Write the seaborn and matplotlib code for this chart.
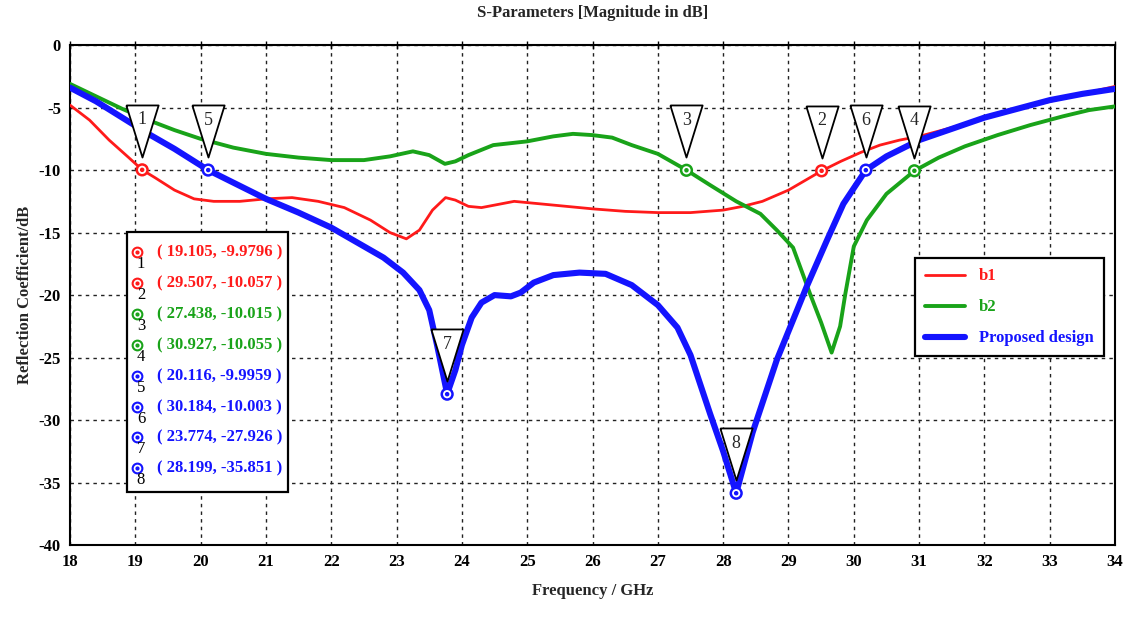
import matplotlib
matplotlib.use("Agg")
import matplotlib.pyplot as plt
import pandas as pd
import seaborn as sns
from matplotlib.patches import Rectangle
from matplotlib.transforms import offset_copy

# b1 curve
b1_freq = [18.0, 18.3, 18.6, 18.9, 19.105, 19.3, 19.6, 19.9, 20.2, 20.6, 21.0, 21.4, 21.8,
           22.2, 22.6, 22.9, 23.15, 23.35, 23.55, 23.75, 23.9, 24.1, 24.3, 24.5, 24.8,
           25.2, 25.6, 26.0, 26.5, 27.0, 27.5, 28.0, 28.3, 28.6, 29.0, 29.507, 29.8,
           30.1, 30.4, 30.7, 31.0, 31.5, 32.0, 32.5, 33.0, 33.5, 34.0]
b1_db = [-4.8, -6.0, -7.6, -9.0, -9.98, -10.6, -11.6, -12.3, -12.5, -12.5, -12.3, -12.2, -12.5,
         -13.0, -14.0, -15.0, -15.5, -14.8, -13.2, -12.2, -12.4, -12.9, -13.0, -12.8, -12.5,
         -12.7, -12.9, -13.1, -13.3, -13.4, -13.4, -13.2, -12.9, -12.5, -11.6, -10.06, -9.3,
         -8.6, -8.0, -7.6, -7.3, -6.6, -5.8, -5.1, -4.5, -3.9, -3.3]

# b2 curve
b2_freq = [18.0, 18.4, 18.8, 19.2, 19.6, 20.0, 20.5, 21.0, 21.5, 22.0, 22.5, 22.9, 23.25,
           23.5, 23.74, 23.9, 24.1, 24.48, 25.0, 25.4, 25.7, 26.0, 26.3, 26.6, 27.0,
           27.438, 27.8, 28.2, 28.57, 28.82, 29.07, 29.33, 29.5, 29.66, 29.79, 29.87,
           30.0, 30.2, 30.5, 30.927, 31.3, 31.7, 32.2, 32.7, 33.2, 33.6, 34.0]
b2_db = [-3.1, -4.1, -5.1, -6.0, -6.8, -7.5, -8.2, -8.7, -9.0, -9.2, -9.2, -8.9, -8.5,
         -8.8, -9.5, -9.3, -8.8, -8.0, -7.7, -7.3, -7.1, -7.2, -7.4, -8.0, -8.7,
         -10.0, -11.2, -12.5, -13.5, -14.8, -16.2, -19.9, -22.2, -24.6, -22.5, -19.9,
         -16.1, -14.0, -11.9, -10.06, -9.0, -8.1, -7.2, -6.4, -5.7, -5.2, -4.9]

# proposed design curve
pd_freq = [18.0, 18.4, 18.8, 19.2, 19.6, 20.116, 20.5, 21.0, 21.5, 22.0, 22.4, 22.8, 23.1,
           23.35, 23.5, 23.62, 23.774, 23.9, 24.0, 24.15, 24.3, 24.5, 24.75, 24.9, 25.1,
           25.4, 25.8, 26.2, 26.6, 27.0, 27.3, 27.5, 27.8, 28.0, 28.199, 28.45, 28.82,
           29.28, 29.59, 29.84, 30.184, 30.5, 31.0, 31.5, 32.0, 32.5, 33.0, 33.5, 34.0]
pd_db = [-3.4, -4.5, -5.8, -7.1, -8.3, -10.0, -11.0, -12.3, -13.4, -14.6, -15.8, -17.0, -18.2,
         -19.6, -21.2, -24.0, -27.9, -26.0, -24.0, -21.8, -20.6, -20.0, -20.1, -19.8, -19.0,
         -18.4, -18.2, -18.3, -19.2, -20.8, -22.6, -24.8, -29.5, -32.5, -35.85, -31.0, -25.2,
         -19.3, -15.6, -12.7, -10.0, -8.9, -7.6, -6.7, -5.8, -5.1, -4.4, -3.9, -3.5]

# markers
marker_ids = ["1", "2", "3", "4", "5", "6", "7", "8"]
marker_freq = [19.105, 29.507, 27.438, 30.927, 20.116, 30.184, 23.774, 28.199]
marker_db = [-9.9796, -10.057, -10.015, -10.055, -9.9959, -10.003, -27.926, -35.851]
marker_curve = ["b1", "b1", "b2", "b2", "Proposed design", "Proposed design",
                "Proposed design", "Proposed design"]

colors = {"b1": "#ff1a1a", "b2": "#19a319", "Proposed design": "#1414ff"}
widths = {"b1": 2.0, "b2": 2.8, "Proposed design": 4.4}

curves = {
    "b1": pd.DataFrame({"freq": b1_freq, "db": b1_db}),
    "b2": pd.DataFrame({"freq": b2_freq, "db": b2_db}),
    "Proposed design": pd.DataFrame({"freq": pd_freq, "db": pd_db}),
}

sns.set_style("white")
plt.rcParams["font.family"] = ["Liberation Serif", "DejaVu Serif"]
plt.rcParams["font.weight"] = "bold"
plt.rcParams["axes.unicode_minus"] = False

fig = plt.figure(figsize=(11.25, 6.18), dpi=100)
ax = fig.add_axes([0.0622, 0.118, 0.929, 0.809])

for name, data in curves.items():
    sns.lineplot(data=data, x="freq", y="db", ax=ax, color=colors[name],
                 linewidth=widths[name], label=name, sort=False, zorder=3)

ax.set_xlim(18, 34)
ax.set_ylim(-40, 0)
ax.set_xticks(range(18, 35))
ax.set_yticks(range(-40, 1, 5))
ax.grid(True, color="#222222", linestyle=(0, (2.5, 3)), linewidth=1.0)
for s in ax.spines.values():
    s.set_color("black")
    s.set_linewidth(1.5)
ax.tick_params(direction="inout", length=6, width=1, top=True, labelsize=12,
               colors="black")
for lab in ax.get_xticklabels() + ax.get_yticklabels():
    lab.set_fontweight("bold")

ax.set_title("S-Parameters [Magnitude in dB]", fontsize=12, fontweight="bold", pad=20)
ax.set_xlabel("Frequency / GHz", fontsize=12, fontweight="bold", labelpad=9)
ax.set_ylabel("Reflection Coefficient/dB", fontsize=12, fontweight="bold", labelpad=4)

# marker circles
mk_colors = [colors[c] for c in marker_curve]
ax.scatter(marker_freq, marker_db, s=60, facecolor="white", edgecolor=mk_colors,
           linewidth=1.8, zorder=7)
ax.scatter(marker_freq, marker_db, s=5, color=mk_colors, zorder=8)

# triangles with marker numbers
tri = [(-0.62, 1), (0.62, 1), (0, -1), (-0.62, 1)]
tri_tr = offset_copy(ax.transData, fig=fig, y=28, units="points")
ax.plot(marker_freq, marker_db, linestyle="none", marker=tri, markersize=37.5,
        markerfacecolor="white", markeredgecolor="black", markeredgewidth=1.3,
        transform=tri_tr, zorder=9)
num_tr = offset_copy(ax.transData, fig=fig, y=36, units="points")
for mid, f, d in zip(marker_ids, marker_freq, marker_db):
    ax.text(f, d, mid, transform=num_tr, ha="center", va="center", fontsize=13,
            fontweight="normal", zorder=10)

# marker value table
fig.add_artist(Rectangle((127 / 1125, 1 - 492 / 618), 161 / 1125, 260 / 618,
                         transform=fig.transFigure, facecolor="white",
                         edgecolor="black", linewidth=1.6, zorder=5))
row_y = [252, 283, 314, 345, 376, 407, 437, 468]
for mid, f, d, c, y in zip(marker_ids, marker_freq, marker_db, mk_colors, row_y):
    fy = 1 - y / 618
    fig.add_artist(plt.Line2D([137 / 1125], [fy], marker="o", markersize=7,
                              markerfacecolor="white", markeredgecolor=c,
                              markeredgewidth=1.5, transform=fig.transFigure, zorder=6))
    fig.add_artist(plt.Line2D([137 / 1125], [fy], marker="o", markersize=2,
                              color=c, transform=fig.transFigure, zorder=6))
    fig.text(141 / 1125, fy - 12 / 618, mid, ha="center", va="center", fontsize=12,
             fontweight="normal", color="black", zorder=6)
    fig.text(157 / 1125, fy, f"( {f:g}, {d:g} )", ha="left", va="center",
             fontsize=12, fontweight="bold", color=c, zorder=6)

leg = ax.legend(loc="upper left", bbox_to_anchor=(0.801, 0.59), frameon=True,
                fancybox=False, edgecolor="black", framealpha=1, fontsize=12,
                labelcolor="linecolor", handlelength=2.4, borderpad=0.6,
                labelspacing=0.9)
leg.get_frame().set_linewidth(1.6)
leg.set_zorder(6)
for t in leg.get_texts():
    t.set_fontweight("bold")

fig.savefig("out.png", dpi=100, facecolor="white")
